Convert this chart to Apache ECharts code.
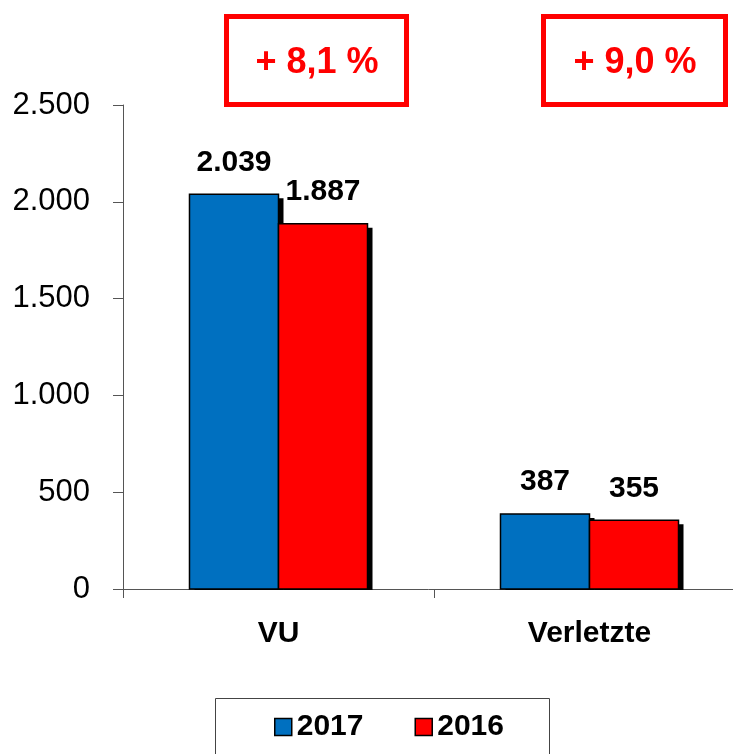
<!DOCTYPE html>
<html>
<head>
<meta charset="utf-8">
<script src="https://cdn.jsdelivr.net/npm/echarts@6/dist/echarts.min.js"></script>
<style>html,body{margin:0;padding:0;background:#fff}#c{width:733px;height:754px}</style>
</head>
<body>
<div id="c"></div>
<script>
var categories = ['VU', 'Verletzte'];
var series2017 = [2039, 387];
var series2016 = [1887, 355];
var seriesNames = ['2017', '2016'];
var changeLabels = ['+ 8,1 %', '+ 9,0 %'];
var yTicks = [0, 500, 1000, 1500, 2000, 2500];

var FONT = '"Liberation Sans", Arial, sans-serif';
var COLORS = ['#0070C0', '#FF0000'];
function fmt(v) {
  var s = String(Math.round(v));
  return s.replace(/\B(?=(\d{3})+(?!\d))/g, '.');
}

// side: -1 = left bar of the pair, +1 = right bar
function makeRender(side, color) {
  return function (params, api) {
    var cat = api.value(0);
    var val = api.value(1);
    var base = api.coord([cat, 0]);
    var top = api.coord([cat, val]);
    var band = api.size([1, 0])[0];
    var w = band * 0.2862;
    var x0 = side < 0 ? base[0] - w : base[0];
    var h = base[1] - top[1];
    return {
      type: 'group',
      children: [
        {type: 'rect', shape: {x: x0 + 5, y: top[1] + 4, width: w, height: Math.max(0, h - 3)}, style: {fill: '#000'}},
        {type: 'rect', shape: {x: x0, y: top[1], width: w, height: h}, style: {fill: color, stroke: '#000', lineWidth: 1.5}},
        {type: 'text', x: x0 + w / 2, y: top[1] - 17, style: {text: fmt(val), fill: '#000', font: 'bold 30px ' + FONT, align: 'center', verticalAlign: 'bottom'}}
      ]
    };
  };
}

function toData(arr) { return arr.map(function (v, i) { return [i, v]; }); }

var chart = echarts.init(document.getElementById('c'), null, {renderer: 'canvas'});
chart.setOption({
  animation: false,
  backgroundColor: '#fff',
  grid: {left: 123, top: 105, width: 622, height: 484, containLabel: false, outerBoundsMode: 'none'},
  xAxis: {
    type: 'category',
    data: categories,
    axisLine: {lineStyle: {color: '#555', width: 1}},
    axisTick: {show: true, alignWithLabel: false, length: 9, lineStyle: {color: '#555'}},
    axisLabel: {margin: 30, fontFamily: FONT, fontWeight: 'bold', fontSize: 30, color: '#000'}
  },
  yAxis: {
    type: 'value',
    min: yTicks[0],
    max: yTicks[yTicks.length - 1],
    interval: yTicks[1] - yTicks[0],
    splitLine: {show: false},
    axisLine: {show: true, lineStyle: {color: '#555', width: 1}},
    axisTick: {show: true, length: 10, lineStyle: {color: '#555'}},
    axisLabel: {margin: 33, fontFamily: FONT, fontSize: 31, color: '#000', formatter: function (v) { return fmt(v); }}
  },
  legend: {
    data: seriesNames,
    left: 274,
    top: 712,
    padding: 0,
    itemWidth: 17,
    itemHeight: 17,
    itemGap: 51,
    icon: 'rect',
    itemStyle: {borderColor: '#000', borderWidth: 1.5},
    textStyle: {fontFamily: FONT, fontWeight: 'bold', fontSize: 30, color: '#000'}
  },
  series: [
    {name: seriesNames[0], type: 'custom', data: toData(series2017), encode: {x: 0, y: 1}, itemStyle: {color: COLORS[0]}, renderItem: makeRender(-1, COLORS[0])},
    {name: seriesNames[1], type: 'custom', data: toData(series2016), encode: {x: 0, y: 1}, itemStyle: {color: COLORS[1]}, renderItem: makeRender(1, COLORS[1])}
  ],
  graphic: [
    {type: 'rect', shape: {x: 215.5, y: 698.5, width: 334, height: 100}, style: {fill: 'none', stroke: '#444', lineWidth: 1}, z: 1},
    {type: 'rect', shape: {x: 226.5, y: 16.5, width: 180, height: 88}, style: {fill: '#fff', stroke: '#FF0000', lineWidth: 5}},
    {type: 'text', x: 317, y: 63, style: {text: changeLabels[0], fill: '#FF0000', font: 'bold 36px ' + FONT, align: 'center', verticalAlign: 'middle'}},
    {type: 'rect', shape: {x: 543.5, y: 16.5, width: 182, height: 88}, style: {fill: '#fff', stroke: '#FF0000', lineWidth: 5}},
    {type: 'text', x: 635, y: 63, style: {text: changeLabels[1], fill: '#FF0000', font: 'bold 36px ' + FONT, align: 'center', verticalAlign: 'middle'}}
  ]
});
</script>
</body>
</html>
